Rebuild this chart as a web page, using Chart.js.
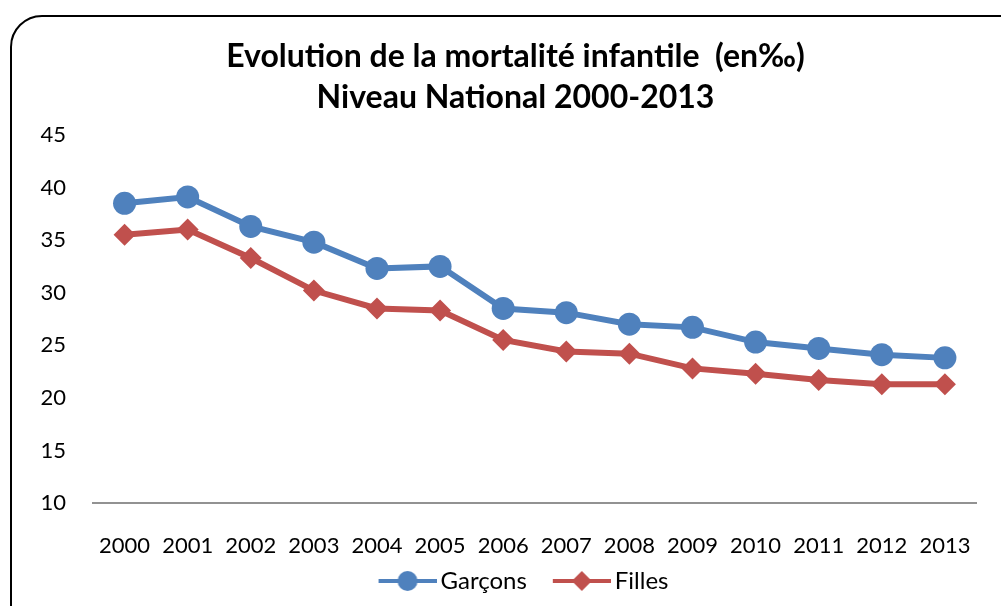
<!DOCTYPE html>
<html>
<head>
<meta charset="utf-8">
<script src="https://cdn.jsdelivr.net/npm/chart.js@4"></script>
<style>
  html, body { margin: 0; padding: 0; background: #fff; overflow: hidden; }
  #frame {
    position: absolute; left: 10px; top: 15px; width: 1030px; height: 640px;
    border: 2px solid #000; border-radius: 32px; box-sizing: border-box;
  }
  #wrap { position: absolute; left: 0; top: 0; width: 1001px; height: 606px; }
</style>
</head>
<body>
<div id="frame"></div>
<div id="wrap"><canvas id="chart"></canvas></div>
<script>
// Data
const years = ['2000', '2001', '2002', '2003', '2004', '2005', '2006',
               '2007', '2008', '2009', '2010', '2011', '2012', '2013'];
const garcons = [38.5, 39.1, 36.3, 34.8, 32.3, 32.5, 28.5, 28.1, 27.0, 26.7, 25.3, 24.7, 24.1, 23.8];
const filles = [35.5, 36.0, 33.3, 30.2, 28.5, 28.3, 25.5, 24.4, 24.2, 22.8, 22.3, 21.7, 21.3, 21.3];
const yTicks = [10, 15, 20, 25, 30, 35, 40, 45];

const blue = '#4F81BD';
const red = '#C0504D';
const font = 'Lato';

// legend icon: line with marker in the middle (Excel style),
// with a blank margin on the left so the items sit further apart
function legendIcon(color, style) {
    const c = document.createElement('canvas');
    c.width = 82; c.height = 24;
    const g = c.getContext('2d');
    g.strokeStyle = color; g.fillStyle = color; g.lineWidth = 4;
    g.beginPath(); g.moveTo(24, 12); g.lineTo(82, 12); g.stroke();
    g.beginPath();
    if (style === 'circle') {
        g.arc(53, 12, 10, 0, Math.PI * 2);
    } else {
        g.moveTo(53, 2); g.lineTo(63, 12); g.lineTo(53, 22); g.lineTo(43, 12); g.closePath();
    }
    g.fill();
    return c;
}

document.addEventListener('DOMContentLoaded', function() {
    const ctx = document.getElementById('chart');
    const icons = [legendIcon(blue, 'circle'), legendIcon(red, 'diamond')];
    new Chart(ctx, {
        type: 'line',
        data: {
            labels: years,
            datasets: [{
                label: 'Garçons',
                data: garcons,
                borderColor: blue,
                backgroundColor: blue,
                borderWidth: 6,
                pointStyle: 'circle',
                pointRadius: 11.5,
                pointBorderWidth: 0,
                tension: 0
            }, {
                label: 'Filles',
                data: filles,
                borderColor: red,
                backgroundColor: red,
                borderWidth: 6,
                pointStyle: 'rectRot',
                pointRadius: 11,
                pointBorderWidth: 0,
                tension: 0
            }]
        },
        options: {
            responsive: true,
            maintainAspectRatio: false,
            animation: false,
            layout: { padding: { left: 30, right: 0, top: 36, bottom: 3 } },
            scales: {
                x: {
                    offset: true,
                    afterFit: function(s) { s.height = 56; },
                    grid: { display: false, drawTicks: false },
                    border: { display: true, color: '#929292', width: 2 },
                    ticks: { color: '#000', font: { family: font, size: 22 }, padding: 30, maxRotation: 0 }
                },
                y: {
                    min: 10,
                    max: 45,
                    afterBuildTicks: function(s) { s.ticks = yTicks.map(v => ({ value: v })); },
                    afterFit: function(s) { s.width = 63; },
                    grid: { display: false, drawTicks: false },
                    border: { display: false },
                    ticks: { color: '#000', font: { family: font, size: 22 }, padding: 27 }
                },
                // empty right axis only to keep the plot end at the same place as the original
                yR: {
                    position: 'right',
                    display: true,
                    afterFit: function(s) { s.width = 16; },
                    grid: { display: false, drawTicks: false },
                    border: { display: false },
                    ticks: { display: false }
                }
            },
            plugins: {
                title: {
                    display: true,
                    text: ['Evolution de la mortalité infantile  (en‰)', 'Niveau National 2000-2013'],
                    color: '#000',
                    font: { family: font, size: 32, weight: 'bold', lineHeight: 1.28 },
                    padding: { top: 0, bottom: 17 }
                },
                legend: {
                    position: 'bottom',
                    labels: {
                        color: '#000',
                        font: { family: font, size: 24 },
                        usePointStyle: true,
                        pointStyleWidth: 66,
                        boxHeight: 24,
                        padding: 10,
                        generateLabels: function(chart) {
                            return chart.data.datasets.map((d, i) => ({
                                text: d.label,
                                pointStyle: icons[i],
                                fillStyle: d.borderColor,
                                strokeStyle: d.borderColor,
                                lineWidth: 0,
                                hidden: false,
                                datasetIndex: i
                            }));
                        }
                    }
                },
                tooltip: { enabled: false }
            }
        }
    });
});
</script>
</body>
</html>
